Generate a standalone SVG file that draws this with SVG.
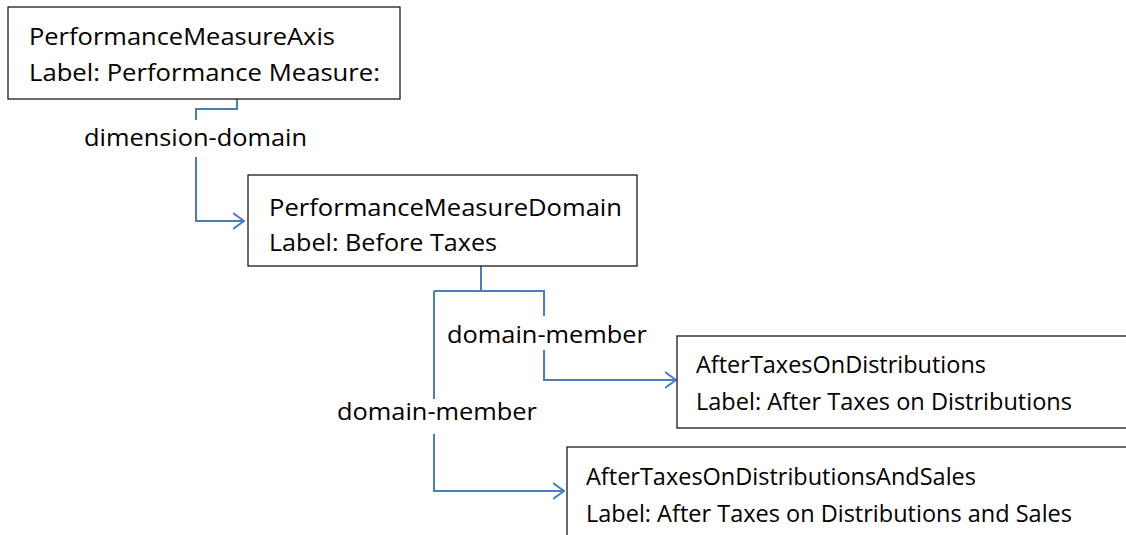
<svg xmlns="http://www.w3.org/2000/svg" width="1126" height="535" viewBox="0 0 1126 535">
<style>
.box{fill:#fff;stroke:#1a1a1a;stroke-width:1.3}
.t{font-family:"Open Sans","Liberation Sans",sans-serif;font-size:24.5px;fill:#000}
.c{fill:none;stroke:#4a7ebb;stroke-width:2}
</style>
<defs>
<marker id="arr" viewBox="0 0 12 18" refX="11" refY="9" markerWidth="12" markerHeight="18" markerUnits="userSpaceOnUse" orient="auto">
<path d="M0,1 L11,9 L0,17" fill="none" stroke="#4a7ebb" stroke-width="2"/>
</marker>
</defs>
<rect width="1126" height="535" fill="#fff"/>
<g id="connectors">
<path class="c" d="M237,99 V109 H196 V120"/>
<path class="c" d="M196,157 V221 H244" marker-end="url(#arr)"/>
<path class="c" d="M481,266 V291 M434,291 H544 V316"/>
<path class="c" d="M544,350 V380 H676" marker-end="url(#arr)"/>
<path class="c" d="M434,291 V399"/>
<path class="c" d="M434,434 V491 H564" marker-end="url(#arr)"/>
<text class="t" x="84" y="146" textLength="223" lengthAdjust="spacingAndGlyphs">dimension-domain</text>
<text class="t" x="447" y="343" textLength="200" lengthAdjust="spacingAndGlyphs">domain-member</text>
<text class="t" x="337" y="420" textLength="200" lengthAdjust="spacingAndGlyphs">domain-member</text>
</g>
<g id="n1">
<rect class="box" x="8" y="7" width="392" height="92"/>
<text class="t" x="29" y="45" textLength="306" lengthAdjust="spacingAndGlyphs">PerformanceMeasureAxis</text>
<text class="t" x="29" y="81" textLength="351" lengthAdjust="spacingAndGlyphs">Label: Performance Measure:</text>
</g>
<g id="n2">
<rect class="box" x="248" y="175" width="389" height="91"/>
<text class="t" x="269" y="216" textLength="353" lengthAdjust="spacingAndGlyphs">PerformanceMeasureDomain</text>
<text class="t" x="269" y="251" textLength="228" lengthAdjust="spacingAndGlyphs">Label: Before Taxes</text>
</g>
<g id="n3">
<rect class="box" x="677" y="336" width="460" height="92"/>
<text class="t" x="696" y="373" textLength="290" lengthAdjust="spacingAndGlyphs">AfterTaxesOnDistributions</text>
<text class="t" x="696" y="410" textLength="376" lengthAdjust="spacingAndGlyphs">Label: After Taxes on Distributions</text>
</g>
<g id="n4">
<rect class="box" x="567" y="447" width="570" height="100"/>
<text class="t" x="586" y="485" textLength="390" lengthAdjust="spacingAndGlyphs">AfterTaxesOnDistributionsAndSales</text>
<text class="t" x="586" y="522" textLength="486" lengthAdjust="spacingAndGlyphs">Label: After Taxes on Distributions and Sales</text>
</g>
</svg>
